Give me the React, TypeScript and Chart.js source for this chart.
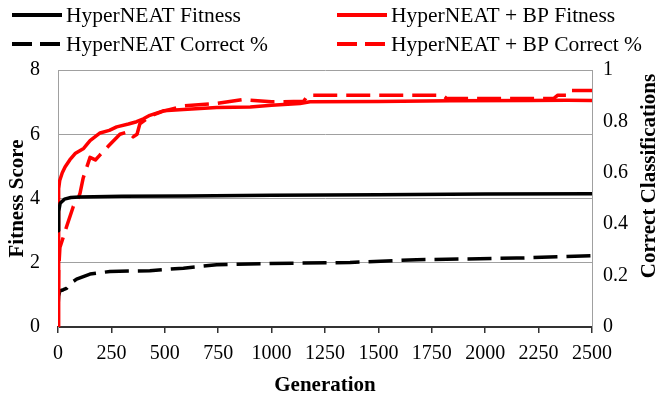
import React, { useEffect, useRef } from "react";
import { Chart, registerables } from "chart.js";

Chart.register(...registerables);

// ---- data ----
const xTicksMax = 2500;

const hnFitGen = [0, 3, 10, 30, 60, 100, 300, 600, 1000, 1500, 2000, 2500];
const hnFit = [3.0, 3.6, 3.85, 3.98, 4.03, 4.05, 4.07, 4.08, 4.1, 4.12, 4.14, 4.15];

const bpFitGen = [0, 3, 8, 20, 33, 55, 80, 120, 150, 197, 240, 275, 330, 368, 400, 430, 493, 587, 743, 900, 1000, 1133, 1180, 1500, 1835, 2200, 2382, 2500];
const bpFit = [0, 4.3, 4.56, 4.8, 4.98, 5.2, 5.4, 5.56, 5.8, 6.04, 6.12, 6.23, 6.32, 6.39, 6.48, 6.59, 6.73, 6.77, 6.83, 6.85, 6.9, 6.96, 7.01, 7.02, 7.04, 7.05, 7.06, 7.05];

const hnCorrGen = [0, 3, 8, 25, 40, 60, 87, 150, 243, 430, 587, 743, 993, 1367, 1679, 2147, 2500];
const hnCorr = [0.08, 0.12, 0.14, 0.145, 0.15, 0.17, 0.186, 0.206, 0.216, 0.219, 0.229, 0.242, 0.247, 0.251, 0.262, 0.268, 0.277];

const bpCorrGen = [0, 3, 9, 25, 40, 72, 90, 103, 118, 150, 175, 197, 243, 290, 330, 352, 370, 383, 430, 493, 587, 743, 868, 1000, 1150, 1170, 1800, 1820, 2320, 2340, 2380, 2390, 2500];
const bpCorr = [0, 0.22, 0.31, 0.35, 0.39, 0.47, 0.49, 0.52, 0.58, 0.66, 0.65, 0.67, 0.71, 0.75, 0.76, 0.74, 0.75, 0.79, 0.82, 0.84, 0.86, 0.87, 0.885, 0.876, 0.878, 0.902, 0.902, 0.889, 0.889, 0.902, 0.902, 0.92, 0.92];

const seriesLabels = [
  "HyperNEAT Fitness",
  "HyperNEAT + BP Fitness",
  "HyperNEAT Correct %",
  "HyperNEAT + BP Correct %",
];

const leftTitle = "Fitness Score";
const rightTitle = "Correct Classifications";
const bottomTitle = "Generation";

const pts = (gs: number[], vs: number[]) => gs.map((g, i) => ({ x: g, y: vs[i] }));

const SERIF = "'Liberation Serif', 'Times New Roman', serif";

const legendPlugin = {
  id: "customLegend",
  afterDraw(chart: any) {
    const ctx = chart.ctx;
    const slots = [
      { x: 12, y: 15 },
      { x: 337, y: 15 },
      { x: 12, y: 44 },
      { x: 337, y: 44 },
    ];
    ctx.save();
    chart.data.datasets.forEach((ds: any, i: number) => {
      const s = slots[i];
      ctx.beginPath();
      ctx.strokeStyle = ds.borderColor;
      ctx.lineWidth = 4;
      ctx.setLineDash(ds.borderDash && ds.borderDash.length ? [20, 8] : []);
      ctx.moveTo(s.x, s.y);
      ctx.lineTo(s.x + 50, s.y);
      ctx.stroke();
      ctx.setLineDash([]);
      ctx.fillStyle = "#000";
      ctx.font = `21.5px ${SERIF}`;
      ctx.textAlign = "left";
      ctx.textBaseline = "middle";
      ctx.fillText(ds.label, s.x + 54, s.y + 1);
    });
    // right axis title, reading bottom-to-top
    ctx.translate(650, 176);
    ctx.rotate(-Math.PI / 2);
    ctx.font = `bold 21px ${SERIF}`;
    ctx.textAlign = "center";
    ctx.textBaseline = "middle";
    ctx.fillStyle = "#000";
    ctx.fillText(rightTitle, 0, 0);
    ctx.restore();
  },
};

export default function App() {
  const ref = useRef<HTMLCanvasElement | null>(null);

  useEffect(() => {
    document.body.style.margin = "0";
    const canvas = ref.current;
    if (!canvas) return;
    const chart = new Chart(canvas, {
      type: "line",
      data: {
        datasets: [
          {
            label: seriesLabels[0],
            data: pts(hnFitGen, hnFit),
            borderColor: "#000000",
            borderWidth: 3.5,
            yAxisID: "y",
          },
          {
            label: seriesLabels[1],
            data: pts(bpFitGen, bpFit),
            borderColor: "#ff0000",
            borderWidth: 3.5,
            yAxisID: "y",
          },
          {
            label: seriesLabels[2],
            data: pts(hnCorrGen, hnCorr),
            borderColor: "#000000",
            borderWidth: 3.5,
            borderDash: [24, 9],
            yAxisID: "y1",
          },
          {
            label: seriesLabels[3],
            data: pts(bpCorrGen, bpCorr),
            borderColor: "#ff0000",
            borderWidth: 3.5,
            borderDash: [24, 9],
            yAxisID: "y1",
          },
        ] as any,
      },
      options: {
        animation: false,
        responsive: false,
        devicePixelRatio: 1,
        layout: { padding: { top: 70, left: 0, right: 0, bottom: 0 } },
        elements: {
          point: { radius: 0 },
          line: { tension: 0, borderCapStyle: "butt", borderJoinStyle: "round" },
        },
        plugins: { legend: { display: false }, tooltip: { enabled: false } },
        scales: {
          x: {
            type: "linear",
            min: 0,
            max: xTicksMax,
            ticks: {
              stepSize: 250,
              color: "#000",
              padding: 9,
              font: { family: SERIF, size: 20 },
              maxRotation: 0,
              autoSkip: false,
              callback: (v: any) => String(v),
            },
            grid: {
              drawOnChartArea: false,
              drawTicks: true,
              tickLength: 6,
              color: "#333",
              lineWidth: 1.5,
            },
            border: { display: true, color: "#333", width: 2 },
            title: {
              display: true,
              text: bottomTitle,
              color: "#000",
              font: { family: SERIF, size: 21, weight: "bold" },
              padding: { top: 0, bottom: 21 },
            },
            afterFit: (s: any) => {
              s.height = 92;
            },
          },
          y: {
            type: "linear",
            position: "left",
            min: 0,
            max: 8,
            ticks: {
              stepSize: 2,
              color: "#000",
              padding: 18,
              font: { family: SERIF, size: 20 },
              callback: (v: any) => String(v),
            },
            grid: {
              drawTicks: false,
              color: (c: any) => (c.tick && c.tick.value === 0 ? "rgba(0,0,0,0)" : "#a0a0a0"),
              lineWidth: 1,
            },
            border: { display: true, color: "#a0a0a0", width: 1 },
            title: {
              display: true,
              text: leftTitle,
              color: "#000",
              font: { family: SERIF, size: 21, weight: "bold" },
              padding: { top: 5, bottom: 0 },
            },
            afterFit: (s: any) => {
              s.width = 58;
            },
          },
          y1: {
            type: "linear",
            position: "right",
            min: 0,
            max: 1,
            ticks: {
              stepSize: 0.2,
              color: "#000",
              padding: 11,
              font: { family: SERIF, size: 20 },
              callback: (v: any) => String(Math.round(Number(v) * 10) / 10),
            },
            grid: { drawOnChartArea: false, drawTicks: false },
            border: { display: true, color: "#a0a0a0", width: 1 },
            afterFit: (s: any) => {
              s.width = 72;
            },
          },
        },
      } as any,
      plugins: [legendPlugin],
    });
    return () => chart.destroy();
  }, []);

  return (
    <div style={{ position: "absolute", left: 0, top: 0, width: 664, height: 419, background: "#fff" }}>
      <canvas ref={ref} width={664} height={419} style={{ width: 664, height: 419 }} />
    </div>
  );
}
